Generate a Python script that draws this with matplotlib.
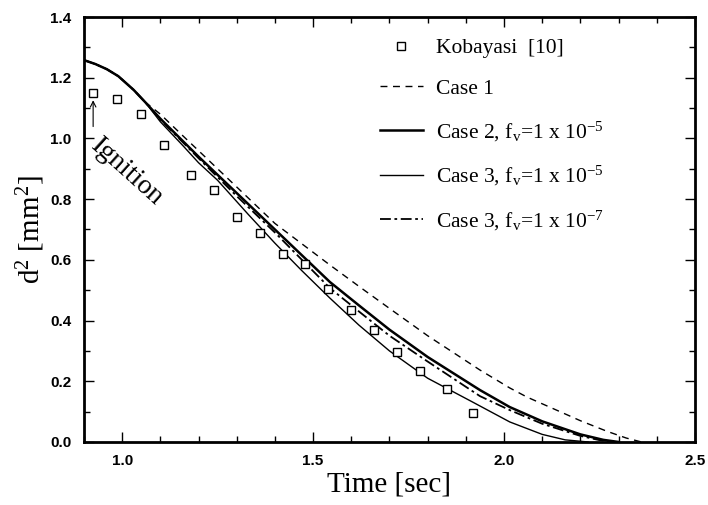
import matplotlib
matplotlib.use("Agg")
import matplotlib.pyplot as plt
from matplotlib.ticker import MultipleLocator

plt.rcParams['mathtext.fontset'] = 'custom'
plt.rcParams['mathtext.rm'] = 'Liberation Serif'
plt.rcParams['mathtext.it'] = 'Liberation Serif:italic'

# Kobayasi [10] measurements
t_exp = [0.924, 0.986, 1.049, 1.109, 1.18, 1.24, 1.30, 1.36, 1.42, 1.48, 1.54,
         1.60, 1.66, 1.72, 1.78, 1.85, 1.92]
d2_exp = [1.15, 1.13, 1.08, 0.98, 0.88, 0.83, 0.74, 0.69, 0.62, 0.585, 0.505,
          0.435, 0.37, 0.295, 0.235, 0.175, 0.095]

# common start of the model curves
t_start = [0.9, 0.93, 0.96, 0.99, 1.03, 1.06]
d2_start = [1.258, 1.245, 1.228, 1.205, 1.16, 1.12]

# Case 1
t_c1 = t_start + [1.1, 1.162, 1.204, 1.3, 1.4, 1.544, 1.623, 1.7, 1.8, 1.937,
                  2.015, 2.06, 2.15, 2.2, 2.27, 2.32, 2.36]
d2_c1 = d2_start + [1.08, 1.005, 0.955, 0.84, 0.72, 0.583, 0.51, 0.44, 0.35,
                    0.237, 0.178, 0.148, 0.098, 0.07, 0.035, 0.013, 0.0]

# Case 2, fv = 1e-5
t_c2 = t_start + [1.1, 1.2, 1.3, 1.4, 1.544, 1.62, 1.7, 1.8, 1.937, 2.015,
                  2.1, 2.2, 2.26, 2.3]
d2_c2 = d2_start + [1.065, 0.94, 0.82, 0.70, 0.527, 0.45, 0.37, 0.28, 0.171,
                    0.115, 0.068, 0.025, 0.007, 0.0]

# Case 3, fv = 1e-5
t_c3a = t_start + [1.1, 1.16, 1.2, 1.25, 1.33, 1.4, 1.47, 1.544, 1.62, 1.7,
                   1.8, 1.92, 2.015, 2.1, 2.16, 2.22]
d2_c3a = d2_start + [1.055, 0.975, 0.92, 0.862, 0.75, 0.655, 0.565, 0.474,
                     0.385, 0.30, 0.21, 0.13, 0.066, 0.025, 0.007, 0.0]

# Case 3, fv = 1e-7
t_c3b = t_start + [1.1, 1.2, 1.3, 1.4, 1.544, 1.62, 1.7, 1.8, 1.937, 2.015,
                   2.1, 2.2, 2.25, 2.29]
d2_c3b = d2_start + [1.062, 0.935, 0.81, 0.69, 0.507, 0.43, 0.35, 0.265,
                     0.151, 0.105, 0.06, 0.02, 0.006, 0.0]

fig = plt.figure(figsize=(7.08, 5.05), dpi=100)
ax = fig.add_axes([0.1186, 0.1248, 0.863, 0.8415])

ax.plot(t_exp, d2_exp, ls='none', marker='s', ms=6, mfc='white', mec='black',
        mew=1.0, label='Kobayasi  [10]', zorder=5)
ax.plot(t_c1, d2_c1, color='black', lw=1.0, ls=(0, (5, 4)), label='Case 1')
ax.plot(t_c2, d2_c2, color='black', lw=1.8, label=r'Case 2, f$_\mathrm{v}$=1 x 10$^{-5}$')
ax.plot(t_c3a, d2_c3a, color='black', lw=1.0, label=r'Case 3, f$_\mathrm{v}$=1 x 10$^{-5}$')
ax.plot(t_c3b, d2_c3b, color='black', lw=1.3, ls=(0, (6, 2, 1.5, 2)),
        label=r'Case 3, f$_\mathrm{v}$=1 x 10$^{-7}$')

ax.set_xlim(0.9, 2.5)
ax.set_ylim(0.0, 1.4)
ax.xaxis.set_major_locator(MultipleLocator(0.5))
ax.xaxis.set_minor_locator(MultipleLocator(0.1))
ax.yaxis.set_major_locator(MultipleLocator(0.2))
ax.yaxis.set_minor_locator(MultipleLocator(0.1))
ax.tick_params(which='both', direction='in', top=True, right=True, width=1.0)
ax.tick_params(which='major', length=7, labelsize=11, pad=9)
ax.tick_params(which='minor', length=4)
for lab in ax.get_xticklabels() + ax.get_yticklabels():
    lab.set_family('Liberation Sans')
    lab.set_fontweight('bold')
for sp in ax.spines.values():
    sp.set_linewidth(2.0)

ax.set_xlabel('Time [sec]', family='Liberation Serif', fontsize=21, labelpad=2)
ax.set_ylabel(r'd$^2$ [mm$^2$]', family='Liberation Serif', fontsize=21, labelpad=2)

# ignition mark
ax.annotate('', xy=(0.924, 1.135), xytext=(0.924, 1.03),
            arrowprops=dict(arrowstyle='->', color='black', lw=0.8))
ax.text(0.948, 1.015, 'Ignition', family='Liberation Serif', fontsize=20,
        rotation=-42, rotation_mode='anchor', ha='left', va='top')

leg = ax.legend(loc='upper left', bbox_to_anchor=(0.47, 0.97), frameon=False,
                prop={'family': 'Liberation Serif', 'size': 15.5},
                handlelength=2.0, handletextpad=0.6, labelspacing=0.95,
                borderaxespad=0.0)

fig.savefig('out.png', dpi=100)
